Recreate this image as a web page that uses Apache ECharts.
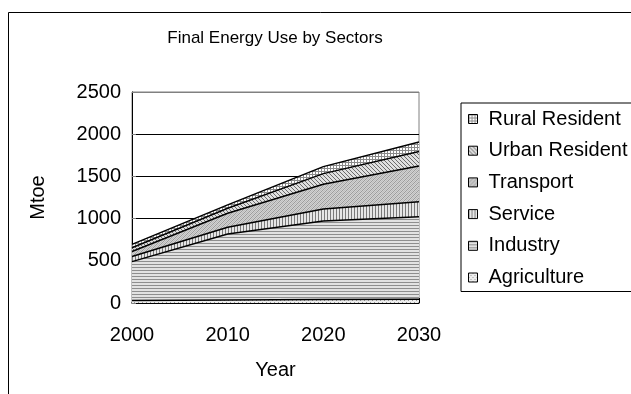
<!DOCTYPE html>
<html>
<head>
<meta charset="utf-8">
<script src="https://cdn.jsdelivr.net/npm/echarts@6/dist/echarts.min.js"></script>
<style>
  html, body { margin: 0; padding: 0; background: #fff; }
  #chart { width: 631px; height: 394px; }
</style>
</head>
<body>
<div id="chart"></div>
<script>
// Final energy use by sector, Mtoe
const years = ['2000', '2010', '2020', '2030'];
const agriculture = [30, 35, 40, 45];
const industry = [460, 783, 932, 978];
const service = [60, 79, 142, 178];
const transport = [60, 166, 293, 423];
const urbanResident = [45, 60, 126, 170];
const ruralResident = [40, 39, 83, 114];

const seriesNames = ['Agriculture', 'Industry', 'Service', 'Transport', 'Urban Resident', 'Rural Resident'];
const seriesValues = [agriculture, industry, service, transport, urbanResident, ruralResident];
const legendOrder = ['Rural Resident', 'Urban Resident', 'Transport', 'Service', 'Industry', 'Agriculture'];

// Small tiled fill patterns, painted pixel by pixel
function makePattern(w, h, bg, pick) {
  const c = document.createElement('canvas');
  c.width = w; c.height = h;
  const ctx = c.getContext('2d');
  ctx.fillStyle = bg;
  ctx.fillRect(0, 0, w, h);
  for (let y = 0; y < h; y++) {
    for (let x = 0; x < w; x++) {
      const col = pick(x, y);
      if (col) { ctx.fillStyle = col; ctx.fillRect(x, y, 1, 1); }
    }
  }
  return { image: c, repeat: 'repeat' };
}

const fills = {
  'Agriculture': makePattern(4, 4, '#eeeeee', (x, y) => ((x === 0 && y === 0) || (x === 2 && y === 2)) ? '#9a9a9a' : null),
  'Industry': makePattern(3, 3, '#e2e2e2', (x, y) => y === 0 ? '#8e8e8e' : null),
  'Service': makePattern(3, 3, '#e6e6e6', (x, y) => x === 0 ? '#7a7a7a' : null),
  'Transport': makePattern(4, 4, '#d2d2d2', (x, y) => (x + y) % 4 === 0 ? '#9c9c9c' : ((x + y) % 4 === 2 ? '#bcbcbc' : null)),
  'Urban Resident': makePattern(4, 4, '#e0e0e0', (x, y) => (x - y + 8) % 4 === 0 ? '#6c6c6c' : null),
  'Rural Resident': makePattern(3, 3, '#ffffff', (x, y) => (x === 0 || y === 0) ? '#8a8a8a' : null)
};

const font = "'Liberation Sans', Arial, sans-serif";
const chart = echarts.init(document.getElementById('chart'), null, { renderer: 'canvas' });

chart.setOption({
  backgroundColor: '#ffffff',
  animation: false,
  title: {
    text: 'Final Energy Use by Sectors',
    left: 270,
    textAlign: 'center',
    top: 25,
    textStyle: { fontFamily: font, fontSize: 17, fontWeight: 'normal', color: '#000' }
  },
  graphic: [{
    type: 'rect',
    shape: { x: 8.5, y: 12.5, width: 800, height: 600 },
    style: { fill: 'none', stroke: '#000', lineWidth: 1 },
    silent: true,
    z: 0
  }],
  legend: {
    orient: 'vertical',
    left: 461,
    top: 103,
    padding: [6, 40, 4, 7],
    itemGap: 11.7,
    itemWidth: 9,
    itemHeight: 9,
    icon: 'rect',
    borderColor: '#000',
    borderWidth: 1,
    backgroundColor: '#fff',
    selectedMode: false,
    textStyle: { fontFamily: font, fontSize: 20, color: '#000', lineHeight: 20, padding: [0, 0, 0, 6] },
    data: legendOrder.map(n => ({
      name: n,
      itemStyle: { color: fills[n], borderColor: '#000', borderWidth: 1 }
    }))
  },
  grid: {
    left: 132, right: 212, top: 92, bottom: 91,
    show: true, borderColor: '#808080', borderWidth: 1, backgroundColor: '#fff'
  },
  xAxis: {
    type: 'category',
    data: years,
    boundaryGap: false,
    name: 'Year',
    nameLocation: 'middle',
    nameGap: 57,
    nameTextStyle: { fontFamily: font, fontSize: 20, color: '#000' },
    axisLine: { lineStyle: { color: '#000', width: 1.5 } },
    axisTick: { inside: true, length: 5, lineStyle: { color: '#000' } },
    axisLabel: { margin: 22, fontFamily: font, fontSize: 20, color: '#000' },
    splitLine: { show: false }
  },
  yAxis: {
    type: 'value',
    min: 0,
    max: 2500,
    interval: 500,
    name: 'Mtoe',
    nameLocation: 'middle',
    nameRotate: 90,
    nameGap: 84,
    nameTextStyle: { fontFamily: font, fontSize: 20, color: '#000' },
    axisLine: { show: true, lineStyle: { color: '#000', width: 1 } },
    axisTick: { show: true, inside: true, length: 4, lineStyle: { color: '#808080' } },
    axisLabel: { margin: 11, fontFamily: font, fontSize: 20, color: '#000', formatter: v => String(v) },
    splitLine: { show: true, lineStyle: { color: ['#000', '#000', '#000', '#000', '#000', '#808080'], width: 1 } }
  },
  series: seriesNames.map((name, i) => ({
    name: name,
    type: 'line',
    stack: 'total',
    data: seriesValues[i],
    symbol: 'none',
    lineStyle: { color: '#000', width: 1.5 },
    itemStyle: { color: '#000' },
    areaStyle: { color: fills[name], opacity: 1 },
    emphasis: { disabled: true }
  }))
});
</script>
</body>
</html>
